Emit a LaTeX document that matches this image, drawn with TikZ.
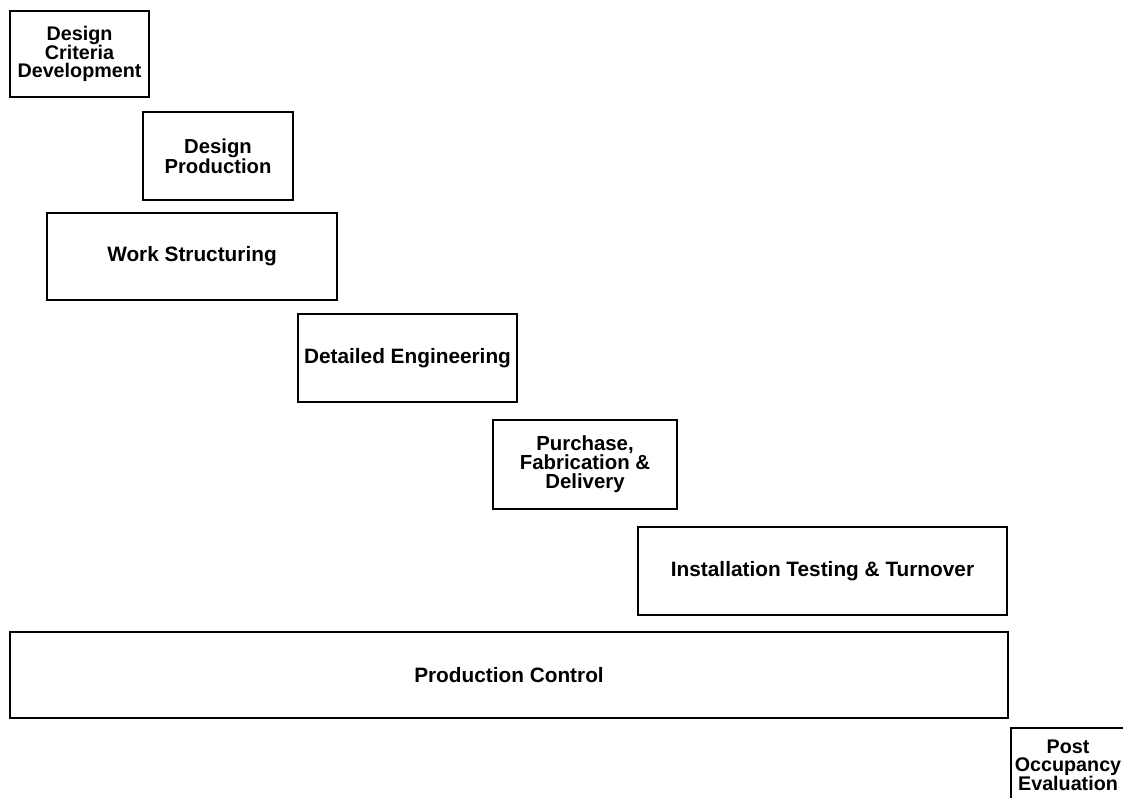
\documentclass[tikz,border=0pt]{standalone}
\usepackage{fontspec}
\setmainfont{Liberation Sans}
\usepackage{tikz}

\begin{document}
\begin{tikzpicture}[x=0.75pt,y=-0.75pt,
  phase/.style={draw,line width=1.1pt,align=center,inner sep=0pt,
    font=\fontsize{15.6}{14}\selectfont\bfseries},
  small phase/.style={phase,font=\fontsize{14.8}{14}\selectfont\bfseries}]
\useasboundingbox (0,0) rectangle (1123,797);

\node[small phase,minimum width=104.25pt,minimum height=64.5pt] (crit) at (79.5,54) {Design\\Criteria\\Development};
\node[phase,font=\fontsize{15.2}{14}\selectfont\bfseries,minimum width=112.5pt,minimum height=66pt] (desprod) at (218,156) {Design\\Production};
\node[phase,minimum width=217.5pt,minimum height=65.25pt] (work) at (192,256.5) {Work Structuring};
\node[phase,minimum width=164.25pt,minimum height=66pt] (detail) at (407.5,358) {Detailed Engineering};
\node[phase,font=\fontsize{15.3}{14.3}\selectfont\bfseries,minimum width=138pt,minimum height=66.75pt] (purch) at (585,464.5) {Purchase,\\Fabrication \&\\Delivery};
\node[phase,minimum width=276.75pt,minimum height=66pt] (install) at (822.5,571) {Installation Testing \& Turnover};
\node[phase,minimum width=748.5pt,minimum height=64.5pt] (control) at (509,675) {Production Control};
\node[small phase,minimum width=85.5pt,minimum height=55.5pt] (post) at (1068,765) {Post\\Occupancy\\Evaluation};
\end{tikzpicture}
\end{document}
